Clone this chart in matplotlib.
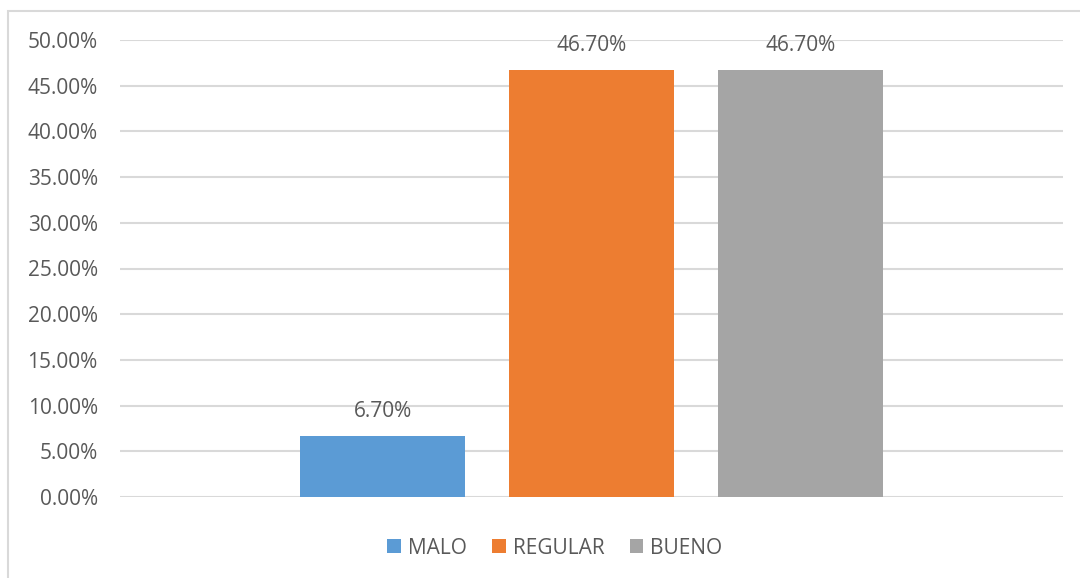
import matplotlib.pyplot as plt
import matplotlib.patches as patches
from matplotlib.ticker import FuncFormatter

labels = ['MALO', 'REGULAR', 'BUENO']
values = [6.7, 46.7, 46.7]
colors = ['#5b9bd5', '#ed7d31', '#a5a5a5']
yticks = [0, 5, 10, 15, 20, 25, 30, 35, 40, 45, 50]

plt.rcParams['font.family'] = ['Open Sans', 'DejaVu Sans']
txt = '#595959'
fs = 15

fig = plt.figure(figsize=(10.8, 5.78), dpi=100)
ax = fig.add_axes([120/1080, 1-497/578, (1063-120)/1080, (497-40)/578])

# outer chart frame (right/bottom edges are cut off in the original)
fig.patches.append(patches.Rectangle((8/1080, -0.1), 1.2, 1-11/578+0.1,
                                     transform=fig.transFigure, fill=False,
                                     edgecolor='#d9d9d9', linewidth=1.5))

pos = [-1, 0, 1]
for p, v, c, l in zip(pos, values, colors, labels):
    ax.bar(p, v, width=0.79, color=c, label=l, zorder=3)
    ax.text(p, v + 1.5, '%.2f%%' % v, ha='center', va='bottom',
            fontsize=fs, color=txt)

ax.set_xlim(-2.256, 2.256)
ax.set_ylim(0, 50)
ax.set_yticks(yticks)
ax.yaxis.set_major_formatter(FuncFormatter(lambda y, _: '%.2f%%' % y))
ax.tick_params(axis='y', length=0, pad=16, labelsize=fs, labelcolor=txt)
ax.set_xticks([])
ax.grid(axis='y', color='#d9d9d9', linewidth=1.5, zorder=0)
for s in ax.spines.values():
    s.set_visible(False)

fig.legend(loc='center', bbox_to_anchor=(555/1080, 1-548/578), ncol=3,
           frameon=False, fontsize=fs, labelcolor=txt, handlelength=0.65,
           handleheight=0.65, handletextpad=0.35, columnspacing=1.2)

fig.savefig('out.png', dpi=100)
